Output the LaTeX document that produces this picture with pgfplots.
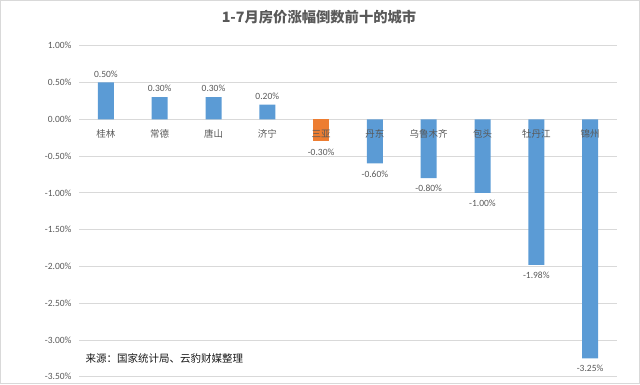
\documentclass[border=0pt]{standalone}
\usepackage{pgfplots}
\pgfplotsset{compat=1.18}
\usepackage{fontspec}
\setmainfont{Carlito}
\newfontfamily\cjk{Noto Sans CJK SC}
\definecolor{barblue}{HTML}{5B9BD5}
\definecolor{barorange}{HTML}{ED7D31}
\definecolor{gridgray}{HTML}{D9D9D9}
\definecolor{txt}{HTML}{595959}
\begin{document}
\begin{tikzpicture}[x=1pt,y=1pt]
\path[use as bounding box] (0,0) rectangle (640,384);
\draw[gridgray] (0.5,0.5) rectangle (639.5,383.5);
\node[font=\cjk\bfseries\fontsize{14.3}{16}\selectfont, text=txt] at (319,367) {1-7月房价涨幅倒数前十的城市};
\begin{axis}[
  at={(79pt,7.3pt)}, anchor=south west, scale only axis,
  width=538pt, height=331pt,
  ymin=-3.5, ymax=1,
  xmin=-0.5, xmax=9.5,
  ytick={-3.5,-3,-2.5,-2,-1.5,-1,-0.5,0,0.5,1},
  yticklabel={\pgfmathprintnumber[fixed,fixed zerofill,precision=2]{\tick}\%},
  /pgf/number format/assume math mode=true,
  yticklabel style={font=\fontsize{9.5}{11}\selectfont, text=txt, xshift=-4pt},
  xtick=\empty,
  ymajorgrids, grid style={gridgray, line width=0.8pt},
  axis line style={draw=none},
  major tick length=0pt,
  ybar, bar width=16pt,
  clip=false,
]
\addplot[fill=barblue, draw=none, bar shift=0pt,
  nodes near coords={\pgfmathprintnumber[fixed,fixed zerofill,precision=2]{\pgfplotspointmeta}\%},
  nodes near coords style={font=\fontsize{9.5}{11}\selectfont, text=txt, inner ysep=5pt}] coordinates {
(0,0.50) (1,0.30) (2,0.30) (3,0.20)};
\addplot[fill=barblue, draw=none, bar shift=0pt,
  nodes near coords={\pgfmathprintnumber[fixed,fixed zerofill,precision=2]{\pgfplotspointmeta}\%},
  nodes near coords style={font=\fontsize{9.5}{11}\selectfont, text=txt, inner ysep=7pt}] coordinates {
(5,-0.60) (6,-0.80) (7,-1.00) (8,-1.98) (9,-3.25)};
\addplot[fill=barorange, draw=none, bar shift=0pt,
  nodes near coords={\pgfmathprintnumber[fixed,fixed zerofill,precision=2]{\pgfplotspointmeta}\%},
  nodes near coords style={font=\fontsize{9.5}{11}\selectfont, text=txt, inner ysep=7pt}] coordinates {(4,-0.30)};
\addplot[draw=none, fill=none, bar shift=0pt, point meta=explicit symbolic,
  nodes near coords, nodes near coords align={center},
  nodes near coords style={font=\cjk\fontsize{9.5}{11}\selectfont, text=txt, anchor=center, yshift=-14.7pt}]
  coordinates {(0,0)[桂林] (1,0)[常德] (2,0)[唐山] (3,0)[济宁] (4,0)[三亚] (5,0)[丹东] (6,0)[乌鲁木齐] (7,0)[包头] (8,0)[牡丹江] (9,0)[锦州]};
\end{axis}
\node[font=\cjk\fontsize{10.5}{12}\selectfont, text=black!90, anchor=west] at (82,26) {来源：国家统计局、云豹财媒整理};
\end{tikzpicture}
\end{document}
